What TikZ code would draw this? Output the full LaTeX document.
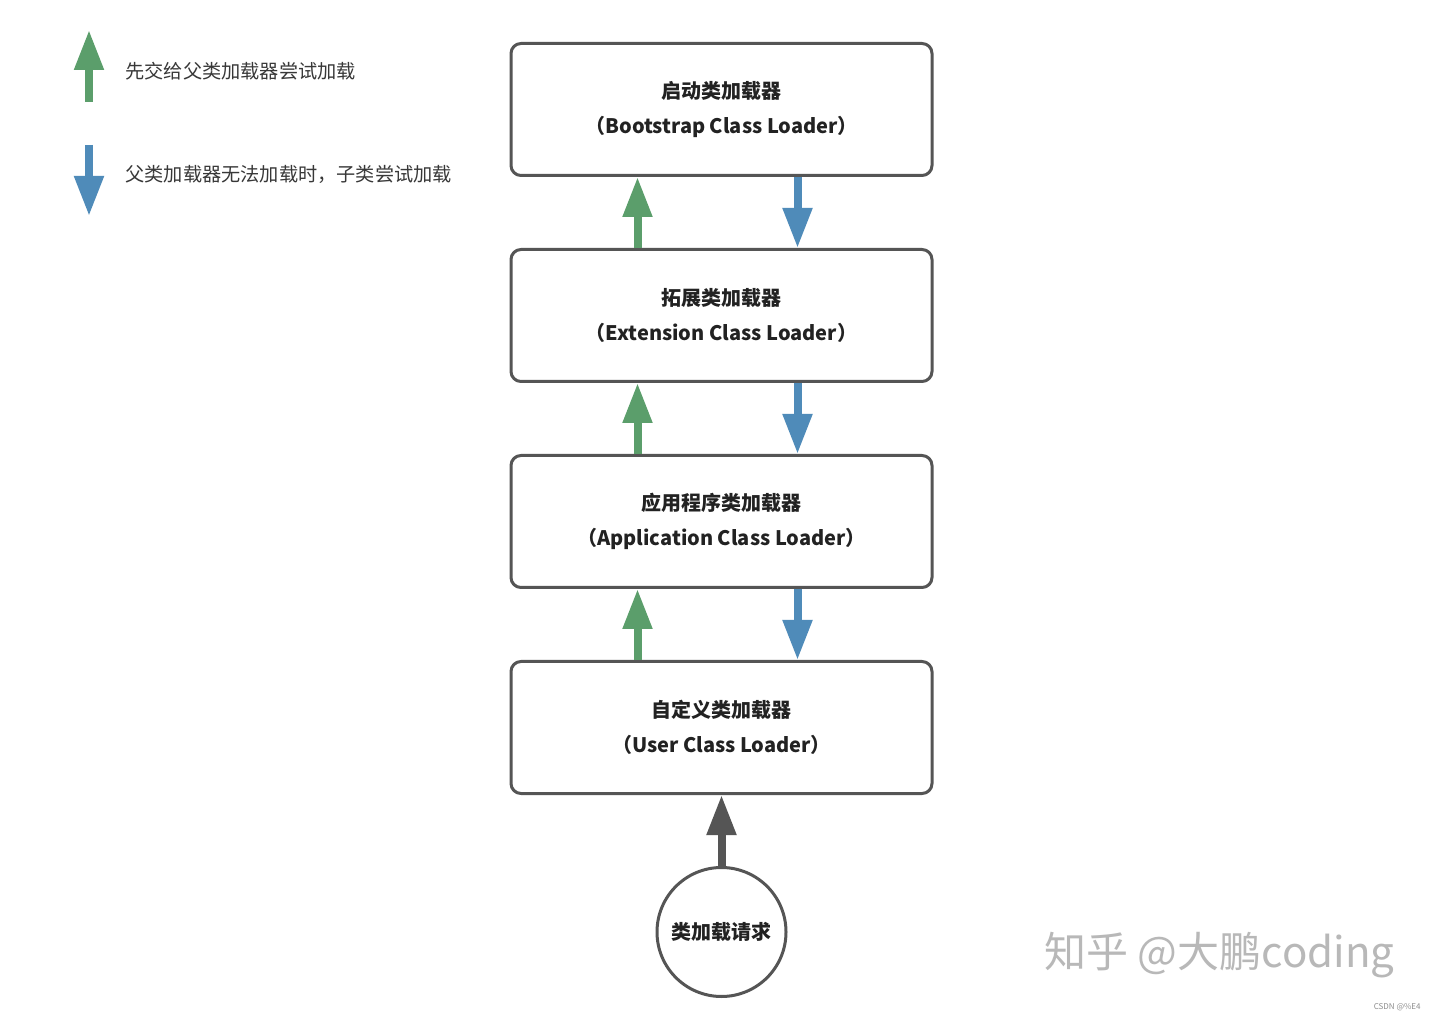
\documentclass[tikz,border=0pt]{standalone}
\usepackage{fontspec}
\setmainfont{Noto Sans CJK SC}
\usepackage{tikz}
\usetikzlibrary{positioning,arrows.meta,calc}

\definecolor{upgreen}{HTML}{5B9E6B}
\definecolor{downblue}{HTML}{4F8BB9}
\definecolor{boxgray}{HTML}{555555}
\definecolor{textdark}{HTML}{222222}

\begin{document}
\begin{tikzpicture}[
    x=0.5pt, y=-0.5pt,
    line join=round,
    node distance=35.5pt,
    every node/.style={inner sep=2pt},
    loader/.style={draw=boxgray, line width=1.5pt, rounded corners=5pt, fill=white,
        minimum width=210.5pt, minimum height=66pt, align=center, text=textdark,
        font=\fontsize{10}{17.5}\selectfont\bfseries},
    request/.style={draw=boxgray, line width=1.5pt, circle, fill=white,
        minimum size=64.5pt, text=textdark, font=\fontsize{10}{12}\selectfont\bfseries},
    legendtext/.style={anchor=west, text=textdark!90, font=\fontsize{9.6}{12}\selectfont},
    uparrow/.style={-{Triangle[width=14pt,length=20pt]}, line width=4pt, upgreen},
    downarrow/.style={-{Triangle[width=14pt,length=20pt]}, line width=4pt, downblue},
    reqarrow/.style={-{Triangle[width=14pt,length=20pt]}, line width=4pt, boxgray}
]
\fill[white] (0,0) rectangle (1440,1020);
\useasboundingbox (0,0) rectangle (1440,1020);

% Legend
\coordinate (legupfrom) at (89,102);
\coordinate (legupto) at (89,30);
\coordinate (legdownfrom) at (89,145);
\coordinate (legdownto) at (89,216);
\draw[uparrow] (legupfrom) -- (legupto);
\draw[downarrow] (legdownfrom) -- (legdownto);
\node[legendtext] (legup) at (121,71) {先交给父类加载器尝试加载};
\node[legendtext] (legdown) at (121,174) {父类加载器无法加载时，子类尝试加载};

% Loaders
\node[loader] (boot) at (721.5,109.5) {启动类加载器\\（Bootstrap Class Loader）};
\node[loader, below=of boot] (ext) {拓展类加载器\\（Extension Class Loader）};
\node[loader, below=of ext] (app) {应用程序类加载器\\（Application Class Loader）};
\node[loader, below=of app] (user) {自定义类加载器\\（User Class Loader）};

% Request
\node[request] (req) at (721.5,932) {类加载请求};

% Delegation arrows
\foreach \lower/\upper in {ext/boot, app/ext, user/app}{
  \draw[uparrow] ([xshift=-42pt]\lower.north) -- ([xshift=-42pt]\upper.south);
  \draw[downarrow] ([xshift=38pt]\upper.south) -- ([xshift=38pt]\lower.north);
}
\draw[reqarrow] (req.north) -- (user.south);

% Watermark
\node[anchor=west, text=black!28, font=\fontsize{21}{24}\selectfont] (mark) at (1040,955) {知乎 @大鹏coding};
\node[anchor=east, text=black!45, font=\fontsize{4}{5}\selectfont] (csdn) at (1425,1007) {CSDN @\%E4};
\end{tikzpicture}
\end{document}
